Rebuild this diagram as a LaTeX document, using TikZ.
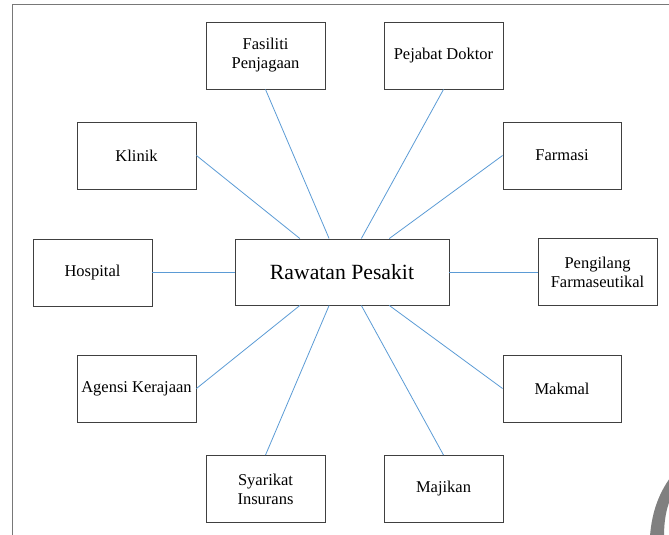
\documentclass[tikz,border=0pt]{standalone}
\usepackage{fontspec}
\setmainfont{Liberation Serif}
\newfontfamily\boxfont{Liberation Serif}
\usetikzlibrary{calc}
\definecolor{linkblue}{RGB}{91,155,213}
\definecolor{boxedge}{RGB}{64,64,64}
\definecolor{framegray}{RGB}{120,120,120}
\begin{document}
\begin{tikzpicture}[x=1pt,y=-1pt,
  box/.style={draw=boxedge,line width=0.9pt,fill=white,minimum width=119pt,minimum height=67pt,
    inner sep=0pt,align=center,font=\boxfont\fontsize{16.5}{19}\selectfont},
  hub/.style={box,minimum width=214pt,minimum height=66pt,font=\boxfont\fontsize{21.7}{24}\selectfont},
  link/.style={draw=linkblue,line width=0.8pt}]
\useasboundingbox (0,0) rectangle (669,535);
% page frame
\draw[framegray,line width=1pt] (12,540) -- (12,5) -- (675,5);
% page mark in the corner
\fill[gray] (650,536) .. controls (652,510) and (660,492) .. (670,478) -- (670,500)
  .. controls (666,510) and (664,522) .. (664,536) -- cycle;

\node[hub] (c) at (342,272) {Rawatan Pesakit};
\node[box] (fas) at (265.5,55.5) {Fasiliti\\Penjagaan};
\node[box] (pej) at (443.5,55.5) {Pejabat Doktor};
\node[box] (kli) at (136.5,155.5) {Klinik};
\node[box,minimum width=118pt] (far) at (562,155.5) {Farmasi};
\node[box] (hos) at (92.5,272.5) {Hospital};
\node[box] (pen) at (597.5,272) {Pengilang\\Farmaseutikal};
\node[box] (age) at (136.5,388.5) {Agensi Kerajaan};
\node[box,minimum width=118pt] (mak) at (562,388.5) {Makmal};
\node[box] (sya) at (265.5,489) {Syarikat\\Insurans};
\node[box] (maj) at (443.5,489) {Majikan};

\draw[link] (fas.south) -- ($(c.north west)!0.44!(c.north east)$);
\draw[link] (pej.south) -- ($(c.north west)!0.59!(c.north east)$);
\draw[link] (kli.east) -- ($(c.north west)!0.304!(c.north east)$);
\draw[link] (far.west) -- ($(c.north west)!0.72!(c.north east)$);
\draw[link] (hos.east) -- (hos.east -| c.west);
\draw[link] (pen.west) -- (pen.west -| c.east);
\draw[link] (age.east) -- ($(c.south west)!0.304!(c.south east)$);
\draw[link] (mak.west) -- ($(c.south west)!0.72!(c.south east)$);
\draw[link] (sya.north) -- ($(c.south west)!0.44!(c.south east)$);
\draw[link] (maj.north) -- ($(c.south west)!0.59!(c.south east)$);
\end{tikzpicture}
\end{document}
